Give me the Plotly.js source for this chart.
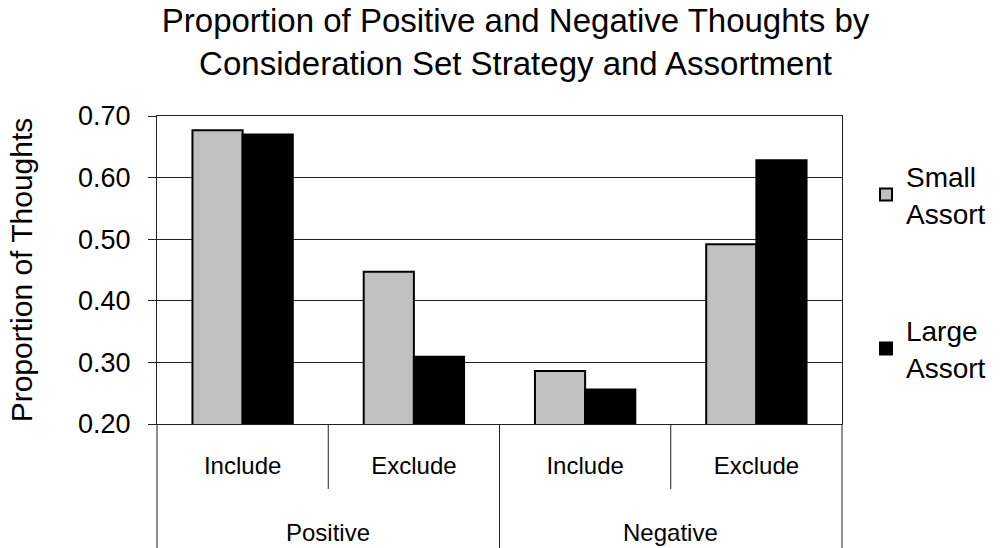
<!DOCTYPE html>
<html>
<head>
<meta charset="utf-8">
<script src="https://cdn.plot.ly/plotly-3.0.1.min.js"></script>
<style>html,body{margin:0;padding:0;background:#fff;}#chart{width:1003px;height:548px;}</style>
</head>
<body>
<div id="chart"></div>
<script>
var valence = ["Positive", "Positive", "Negative", "Negative"];
var strategy = ["Include", "Exclude", "Include", "Exclude"];
var smallAssort = [0.677, 0.447, 0.286, 0.492];
var largeAssort = [0.670, 0.309, 0.256, 0.628];
var seriesNames = ["Small<br>Assort", "Large<br>Assort"];
var yTicks = [0.2, 0.3, 0.4, 0.5, 0.6, 0.7];

var FONT = "Liberation Sans, Arial, sans-serif";

// one category per (valence, strategy) cell; shown with its strategy label
var cells = valence.map(function (v, i) { return v + " / " + strategy[i]; });
// outer groups: unique valence labels, centred over their cells
var groups = [];
var groupIdx = [];
valence.forEach(function (v, i) {
  var g = groups.indexOf(v);
  if (g < 0) { groups.push(v); groupIdx.push([i]); } else { groupIdx[g].push(i); }
});
var groupCenters = groupIdx.map(function (idx) {
  return idx.reduce(function (a, b) { return a + b; }, 0) / idx.length;
});

var traces = [
  {type: "bar", x: cells, y: smallAssort, name: seriesNames[0],
   marker: {color: "#C0C0C0", line: {color: "#000", width: 2}}, legend: "legend"},
  {type: "bar", x: cells, y: largeAssort, name: seriesNames[1],
   marker: {color: "#000000", line: {color: "#000", width: 2}}, legend: "legend2"}
];

var lines = [];
// separators between strategy cells (inner row)
[0.25, 0.75].forEach(function (p) {
  lines.push({type: "line", xref: "paper", yref: "paper", x0: p, x1: p, y0: 0, y1: -0.211,
              line: {color: "#222", width: 1}});
});
// group dividers (full height of both rows)
[0, 0.5, 1].forEach(function (p) {
  lines.push({type: "line", xref: "paper", yref: "paper", x0: p, x1: p, y0: 0, y1: -0.42,
              line: {color: "#222", width: 1}});
});

var groupLabels = groups.map(function (g, k) {
  return {text: g, xref: "x", yref: "paper", x: groupCenters[k], y: -0.351,
          xanchor: "center", yanchor: "middle", showarrow: false,
          font: {size: 24, family: FONT, color: "#000"}};
});

var layout = {
  width: 1003, height: 548,
  paper_bgcolor: "#fff", plot_bgcolor: "#fff",
  font: {family: FONT, color: "#000"},
  margin: {l: 157, r: 156, t: 116, b: 124},
  showlegend: true,
  title: {text: "Proportion of Positive and Negative Thoughts by<br>Consideration Set Strategy and Assortment",
          font: {size: 33, family: FONT, color: "#000"}, x: 0.514, xanchor: "center", y: 0.941, yanchor: "top"},
  barmode: "group", bargap: 0.414, bargroupgap: 0,
  xaxis: {type: "category", showline: true, linecolor: "#222", linewidth: 1, mirror: true,
          showgrid: false, ticks: "", tickvals: cells, ticktext: strategy,
          ticklabelstandoff: 20,
          tickfont: {size: 24, family: FONT, color: "#000"}},
  yaxis: {range: [0.2, 0.7], tickvals: yTicks, tickformat: ".2f", ticks: "outside", ticklen: 8,
          tickcolor: "#222", showline: true, linecolor: "#222", linewidth: 1, mirror: true,
          showgrid: true, gridcolor: "#222", gridwidth: 1, zeroline: false,
          ticklabelstandoff: 12,
          tickfont: {size: 27, family: FONT, color: "#000"},
          title: {text: "Proportion of Thoughts", font: {size: 30, family: FONT, color: "#000"}, standoff: 36}},
  legend: {x: 1.035, xanchor: "left", y: 0.745, yanchor: "middle", font: {size: 28, family: FONT, color: "#000"},
           bgcolor: "rgba(0,0,0,0)", borderwidth: 0},
  legend2: {x: 1.035, xanchor: "left", y: 0.245, yanchor: "middle", font: {size: 28, family: FONT, color: "#000"},
           bgcolor: "rgba(0,0,0,0)", borderwidth: 0},
  shapes: lines,
  annotations: groupLabels
};

Plotly.newPlot("chart", traces, layout, {displayModeBar: false, staticPlot: true});
</script>
</body>
</html>
